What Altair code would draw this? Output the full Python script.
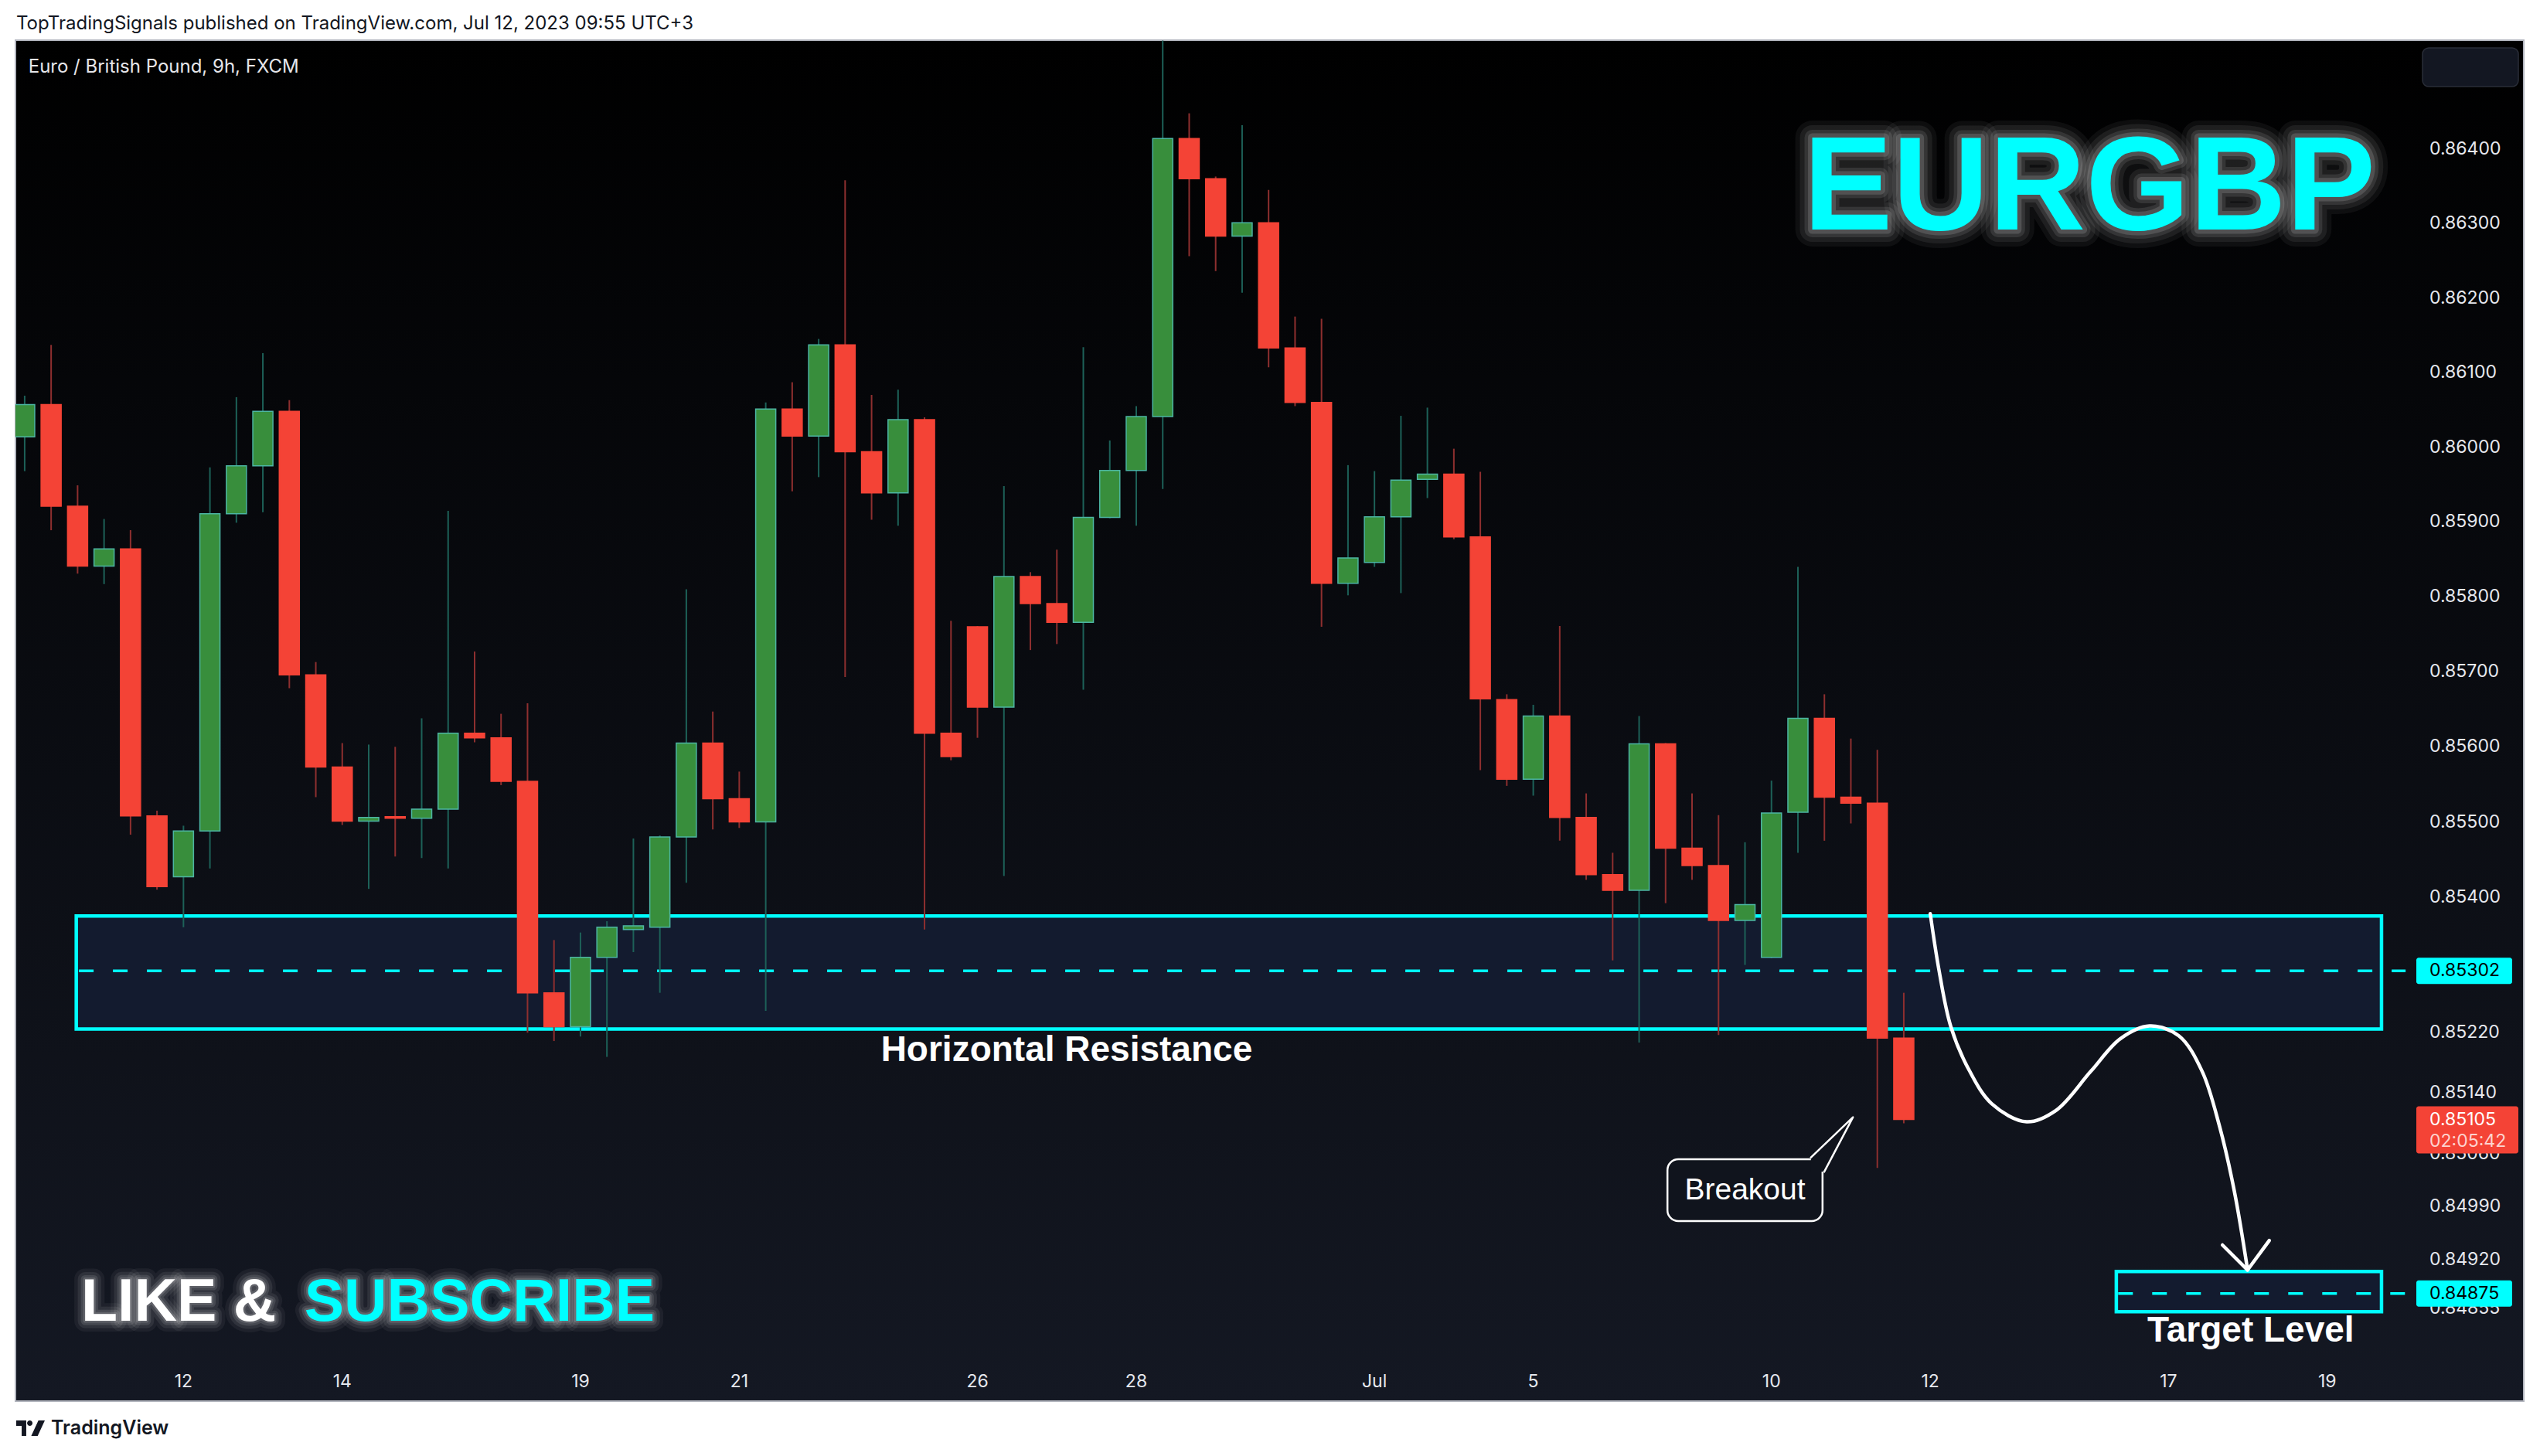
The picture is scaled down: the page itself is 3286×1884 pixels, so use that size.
import altair as alt
import pandas as pd

# ---------------- data ----------------
opens = [0.86014, 0.86057, 0.85921, 0.85841, 0.85864, 0.85508, 0.85427, 0.85488, 0.85911, 0.85975,
         0.86048, 0.85696, 0.85573, 0.85501, 0.85507, 0.85505, 0.85517, 0.85618, 0.85612, 0.85554,
         0.85273, 0.85228, 0.85320, 0.85357, 0.85360, 0.85480, 0.85605, 0.85531, 0.85500, 0.86051,
         0.86015, 0.86137, 0.85994, 0.85939, 0.86037, 0.85618, 0.85760, 0.85653, 0.85827, 0.85791,
         0.85766, 0.85906, 0.85969, 0.86041, 0.86414, 0.86360, 0.86283, 0.86301, 0.86133, 0.86060,
         0.85818, 0.85846, 0.85907, 0.85957, 0.85964, 0.85880, 0.85663, 0.85557, 0.85641, 0.85506,
         0.85430, 0.85409, 0.85604, 0.85465, 0.85442, 0.85369, 0.85320, 0.85513, 0.85638, 0.85533,
         0.85525, 0.85213]
highs = [0.86069, 0.86137, 0.85949, 0.85904, 0.85889, 0.85515, 0.85495, 0.85973, 0.86067, 0.86126,
         0.86063, 0.85713, 0.85605, 0.85603, 0.85600, 0.85638, 0.85915, 0.85727, 0.85644, 0.85658,
         0.85343, 0.85353, 0.85368, 0.85478, 0.85482, 0.85810, 0.85647, 0.85567, 0.86060, 0.86087,
         0.86145, 0.86358, 0.86070, 0.86077, 0.86040, 0.85768, 0.85761, 0.85948, 0.85833, 0.85863,
         0.86134, 0.86009, 0.86055, 0.86546, 0.86448, 0.86363, 0.86432, 0.86345, 0.86175, 0.86172,
         0.85976, 0.85968, 0.86042, 0.86053, 0.85998, 0.85967, 0.85670, 0.85656, 0.85761, 0.85538,
         0.85459, 0.85641, 0.85605, 0.85538, 0.85509, 0.85473, 0.85555, 0.85840, 0.85670, 0.85611,
         0.85596, 0.85273]
lows = [0.85968, 0.85889, 0.85831, 0.85817, 0.85483, 0.85410, 0.85360, 0.85438, 0.85899, 0.85913,
        0.85678, 0.85533, 0.85496, 0.85411, 0.85454, 0.85452, 0.85438, 0.85606, 0.85549, 0.85220,
        0.85209, 0.85215, 0.85188, 0.85327, 0.85273, 0.85419, 0.85490, 0.85492, 0.85249, 0.85941,
        0.85960, 0.85693, 0.85903, 0.85895, 0.85357, 0.85582, 0.85612, 0.85428, 0.85729, 0.85737,
        0.85676, 0.85905, 0.85895, 0.85944, 0.86256, 0.86236, 0.86207, 0.86107, 0.86055, 0.85760,
        0.85802, 0.85840, 0.85805, 0.85932, 0.85877, 0.85569, 0.85548, 0.85535, 0.85475, 0.85423,
        0.85316, 0.85207, 0.85392, 0.85423, 0.85217, 0.85310, 0.85319, 0.85459, 0.85475, 0.85498,
        0.85041, 0.85100]
closes = [0.86057, 0.85921, 0.85841, 0.85864, 0.85508, 0.85414, 0.85488, 0.85911, 0.85975, 0.86048,
          0.85696, 0.85573, 0.85501, 0.85506, 0.85505, 0.85517, 0.85618, 0.85612, 0.85554, 0.85273,
          0.85228, 0.85320, 0.85360, 0.85362, 0.85480, 0.85605, 0.85531, 0.85500, 0.86051, 0.86015,
          0.86137, 0.85994, 0.85939, 0.86037, 0.85618, 0.85587, 0.85653, 0.85827, 0.85791, 0.85766,
          0.85906, 0.85969, 0.86041, 0.86414, 0.86360, 0.86283, 0.86301, 0.86133, 0.86060, 0.85818,
          0.85852, 0.85907, 0.85956, 0.85964, 0.85880, 0.85664, 0.85557, 0.85641, 0.85506, 0.85430,
          0.85409, 0.85604, 0.85465, 0.85442, 0.85369, 0.85390, 0.85512, 0.85638, 0.85533, 0.85525,
          0.85213, 0.85105]

price_ticks = [0.864, 0.863, 0.862, 0.861, 0.860, 0.859, 0.858, 0.857, 0.856, 0.855, 0.854,
               0.8522, 0.8514, 0.8506, 0.8499, 0.8492, 0.84855]
time_tick_pos = [6, 12, 21, 27, 36, 42, 51, 57, 66, 72, 81, 87]
time_tick_labels = ["12", "14", "19", "21", "26", "28", "Jul", "5", "10", "12", "17", "19"]

zone_left = [1.95, 79.03]
zone_right = [89.05, 89.05]
zone_top = [0.85375, 0.84904]
zone_bottom = [0.85225, 0.84851]

level_prices = [0.85302, 0.84875]
level_labels = ["0.85302", "0.84875"]
level_left = [2.05, 79.1]
level_right = [89.96, 89.96]

last_price = [0.85105]
last_label = ["0.85105"]
countdown = ["02:05:42"]

curve_i = [72.00, 72.33, 72.77, 73.43, 74.32, 75.64, 76.75, 78.07, 79.18, 80.28, 81.39, 82.27, 82.93, 83.49, 83.99]
curve_p = [0.85378, 0.85303, 0.85229, 0.85173, 0.85126, 0.85102, 0.85117, 0.85169, 0.85212, 0.85229,
           0.85216, 0.85169, 0.85096, 0.85010, 0.84906]
arrow_i = [83.04, 83.99, 84.81]
arrow_p = [0.84939, 0.84906, 0.84945]

callout_i = [62.07, 67.93]
callout_p = [0.850525, 0.849707]
cover_i = [67.49, 68.06]
cover_p = [0.850555, 0.850360]
tail_i = [67.47, 69.08, 67.98]
tail_p = [0.85054, 0.85108, 0.85035]

ann_text = ["EURGBP", "Horizontal Resistance", "Target Level", "Breakout", "LIKE &", "SUBSCRIBE"]
ann_i = [78.01, 39.37, 84.11, 65.0, 2.135, 23.81]
ann_p = [0.86292, 0.851825, 0.848111, 0.849993, 0.84839, 0.84839]

header_text = "TopTradingSignals published on TradingView.com, Jul 12, 2023 09:55 UTC+3"
symbol_text = "Euro / British Pound, 9h, FXCM"

# ---------------- styling ----------------
W, H = 3105, 1704
CYAN = "#00ffff"
ZONE_FILL = "#131b2f"
LOCAL_BG = "#10141d"
AX_COL = "#e6e8ee"

xs = alt.Scale(domain=[-0.3476, 90.336], nice=False, zero=False)
ys = alt.Scale(type="log", domain=[0.84791, 0.865464], nice=False, zero=False)


def X(f):
    return alt.X(f, type="quantitative", scale=xs, axis=None, title=None)


def Y(f):
    return alt.Y(f, type="quantitative", scale=ys, axis=None, title=None)


one = pd.DataFrame({"k": [0]})
layers = []

# page background (fixes the canvas bounds) and dark chart frame
layers.append(alt.Chart(one).mark_rect(color="#ffffff").encode(
    x=alt.value(-12), x2=alt.value(3258), y=alt.value(-44), y2=alt.value(1824)))
grad = alt.LinearGradient(gradient="linear",
                          stops=[alt.GradientStop(color="#000000", offset=0),
                                 alt.GradientStop(color="#141823", offset=1)],
                          x1=0, x2=0, y1=0, y2=1)
layers.append(alt.Chart(one).mark_rect(fill=grad, stroke="#b2b5be", strokeWidth=2).encode(
    x=alt.value(0), x2=alt.value(3245), y=alt.value(0), y2=alt.value(1761)))
layers.append(alt.Chart(one).mark_rect(fill="#131722", stroke="#2a2e39", strokeWidth=1.5,
                                       cornerRadius=8).encode(
    x=alt.value(3114), x2=alt.value(3238), y=alt.value(10), y2=alt.value(60)))

# zones
zones = pd.DataFrame({"i0": zone_left, "i1": zone_right, "p0": zone_top, "p1": zone_bottom})
layers.append(alt.Chart(zones).mark_rect(fill=ZONE_FILL, stroke=CYAN, strokeWidth=4.5).encode(
    x=X("i0"), x2=alt.X2("i1"), y=Y("p0"), y2=alt.Y2("p1")))

levels = pd.DataFrame({"p": level_prices, "t": level_labels, "i0": level_left, "i1": level_right})
layers.append(alt.Chart(levels).mark_rule(color=CYAN, strokeWidth=3.5, strokeDash=[19, 25]).encode(
    x=X("i0"), x2=alt.X2("i1"), y=Y("p")))

# candles
candles = pd.DataFrame({"i": list(range(len(opens))), "o": opens, "h": highs, "l": lows, "c": closes})
base = alt.Chart(candles).transform_calculate(
    x0="datum.i - 0.38",
    x1="datum.i + 0.38",
    body="datum.c >= datum.o ? '#388e3c' : '#f44336'",
    edge="datum.c >= datum.o ? '#4cb5a3' : '#f44336'",
    wick="datum.c >= datum.o ? '#1d6158' : '#8e2f2f'",
)
layers.append(base.mark_rule(strokeWidth=2, clip=True).encode(
    x=X("i"), y=Y("l"), y2=alt.Y2("h"), color=alt.Color("wick:N", scale=None)))
layers.append(base.mark_rect(strokeWidth=1.5, clip=True).encode(
    x=X("x0"), x2=alt.X2("x1"), y=Y("o"), y2=alt.Y2("c"),
    fill=alt.Fill("body:N", scale=None), stroke=alt.Stroke("edge:N", scale=None)))

# price scale tick labels
yt = pd.DataFrame({"p": price_ticks})
layers.append(alt.Chart(yt).transform_calculate(t="format(datum.p, '.5f')").mark_text(
    align="left", baseline="middle", font="Inter", fontSize=23, color=AX_COL).encode(
    x=alt.value(3123), y=Y("p"), text="t:N"))

# price-scale labels of the levels and the last price
layers.append(alt.Chart(levels).mark_rect(color=CYAN, cornerRadius=3, yOffset=-17, y2Offset=17).encode(
    x=alt.value(3106), x2=alt.value(3230), y=Y("p"), y2=alt.Y2("p")))
layers.append(alt.Chart(levels).mark_text(align="left", baseline="middle", font="Inter",
                                          fontSize=23, color="#000000").encode(
    x=alt.value(3123), y=Y("p"), text="t:N"))
last = pd.DataFrame({"p": last_price, "t": last_label, "t2": countdown})
layers.append(alt.Chart(last).mark_rect(color="#f44336", cornerRadius=3, yOffset=-17, y2Offset=44).encode(
    x=alt.value(3106), x2=alt.value(3238), y=Y("p"), y2=alt.Y2("p")))
layers.append(alt.Chart(last).mark_text(align="left", baseline="middle", font="Inter",
                                        fontSize=23, color="#ffffff").encode(
    x=alt.value(3123), y=Y("p"), text="t:N"))
layers.append(alt.Chart(last).mark_text(align="left", baseline="middle", font="Inter",
                                        fontSize=23, color="#fdd3cf", dy=28).encode(
    x=alt.value(3123), y=Y("p"), text="t2:N"))

# projected path and arrow
curve = pd.DataFrame({"i": curve_i, "p": curve_p, "k": list(range(len(curve_i)))})
layers.append(alt.Chart(curve).mark_line(color="#ffffff", strokeWidth=4.5, interpolate="catmull-rom",
                                         strokeCap="round").encode(
    x=X("i"), y=Y("p"), order="k:Q"))
arrow = pd.DataFrame({"i": arrow_i, "p": arrow_p, "k": [0, 1, 2]})
layers.append(alt.Chart(arrow).mark_line(color="#ffffff", strokeWidth=4.5, strokeCap="round",
                                         strokeJoin="round").encode(
    x=X("i"), y=Y("p"), order="k:Q"))

# breakout callout
callout = pd.DataFrame({"i0": [callout_i[0]], "i1": [callout_i[1]], "p0": [callout_p[0]], "p1": [callout_p[1]]})
layers.append(alt.Chart(callout).mark_rect(fill=LOCAL_BG, stroke="#ffffff", strokeWidth=2.5,
                                           cornerRadius=14).encode(
    x=X("i0"), x2=alt.X2("i1"), y=Y("p0"), y2=alt.Y2("p1")))
cover = pd.DataFrame({"i0": [cover_i[0]], "i1": [cover_i[1]], "p0": [cover_p[0]], "p1": [cover_p[1]]})
layers.append(alt.Chart(cover).mark_rect(fill=LOCAL_BG).encode(
    x=X("i0"), x2=alt.X2("i1"), y=Y("p0"), y2=alt.Y2("p1")))
tail = pd.DataFrame({"i": tail_i, "p": tail_p, "k": [0, 1, 2]})
layers.append(alt.Chart(tail).mark_line(color="#ffffff", strokeWidth=2.5, strokeJoin="round").encode(
    x=X("i"), y=Y("p"), order="k:Q"))

# annotation texts
ann = pd.DataFrame({"t": ann_text, "i": ann_i, "p": ann_p})


def ann_chart(name):
    return alt.Chart(ann).transform_filter(alt.datum.t == name)


BOLD = "Liberation Sans"
for w, o in [(44, 0.05), (32, 0.07), (20, 0.10), (11, 0.14)]:
    layers.append(ann_chart("EURGBP").mark_text(font=BOLD, fontSize=173, fontWeight="bold",
                                                align="center", baseline="alphabetic",
                                                stroke="#ffffff", strokeWidth=w, strokeOpacity=o,
                                                fillOpacity=0, strokeJoin="round").encode(
        x=X("i"), y=Y("p"), text="t:N"))
layers.append(ann_chart("EURGBP").mark_text(font=BOLD, fontSize=173, fontWeight="bold",
                                            align="center", baseline="alphabetic", color=CYAN).encode(
    x=X("i"), y=Y("p"), text="t:N"))

for name, al in [("LIKE &", "left"), ("SUBSCRIBE", "right")]:
    for w, o in [(28, 0.05), (19, 0.08), (11, 0.11), (5, 0.14)]:
        layers.append(ann_chart(name).mark_text(font=BOLD, fontSize=77, fontWeight="bold",
                                                align=al, baseline="alphabetic",
                                                stroke="#ffffff", strokeWidth=w, strokeOpacity=o,
                                                fillOpacity=0, strokeJoin="round").encode(
            x=X("i"), y=Y("p"), text="t:N"))
    layers.append(ann_chart(name).mark_text(font=BOLD, fontSize=77, fontWeight="bold",
                                            align=al, baseline="alphabetic",
                                            color="#ffffff" if name == "LIKE &" else CYAN).encode(
        x=X("i"), y=Y("p"), text="t:N"))

for name in ["Horizontal Resistance", "Target Level"]:
    layers.append(ann_chart(name).mark_text(font=BOLD, fontSize=46, fontWeight="bold",
                                            align="center", baseline="alphabetic", color="#ffffff").encode(
        x=X("i"), y=Y("p"), text="t:N"))
layers.append(ann_chart("Breakout").mark_text(font=BOLD, fontSize=39,
                                              align="center", baseline="alphabetic", color="#ffffff").encode(
    x=X("i"), y=Y("p"), text="t:N"))

# time-scale labels
xt = pd.DataFrame({"i": time_tick_pos, "t": time_tick_labels})
layers.append(alt.Chart(xt).mark_text(font="Inter", fontSize=23, color=AX_COL, align="center",
                                      baseline="middle").encode(
    x=X("i"), y=alt.value(1736), text="t:N"))

# header / legend / footer
layers.append(alt.Chart(one).mark_text(font="Inter", fontSize=24, color="#131722", align="left",
                                       baseline="alphabetic").encode(
    x=alt.value(1), y=alt.value(-14), text=alt.value(header_text)))
layers.append(alt.Chart(one).mark_text(font="Inter", fontSize=24, color="#e6e6ea", align="left",
                                       baseline="alphabetic").encode(
    x=alt.value(16.7), y=alt.value(42), text=alt.value(symbol_text)))
layers.append(alt.Chart(one).mark_text(font="Inter", fontSize=25, fontWeight=600, color="#131722",
                                       align="left", baseline="alphabetic").encode(
    x=alt.value(46), y=alt.value(1804), text=alt.value("TradingView")))
logo_path = ("M -1 -0.54 L -0.3 -0.54 L -0.3 0.54 L -0.62 0.54 L -0.62 -0.16 L -1 -0.16 Z "
             "M -0.24 -0.35 A 0.19 0.19 0 1 0 0.14 -0.35 A 0.19 0.19 0 1 0 -0.24 -0.35 Z "
             "M 0.55 -0.54 L 1 -0.54 L 0.5 0.54 L 0.05 0.54 Z")
layers.append(alt.Chart(one).mark_point(shape=logo_path, filled=True, color="#131722", opacity=1,
                                        size=1369, strokeWidth=0).encode(
    x=alt.value(19.5), y=alt.value(1796)))

chart = alt.layer(*layers).properties(
    width=W, height=H, padding=0, autosize=alt.AutoSizeParams(type="pad")
).configure_view(strokeWidth=0).configure(background="#ffffff")

chart.save("out.html", embed_options={"renderer": "svg", "actions": False})
